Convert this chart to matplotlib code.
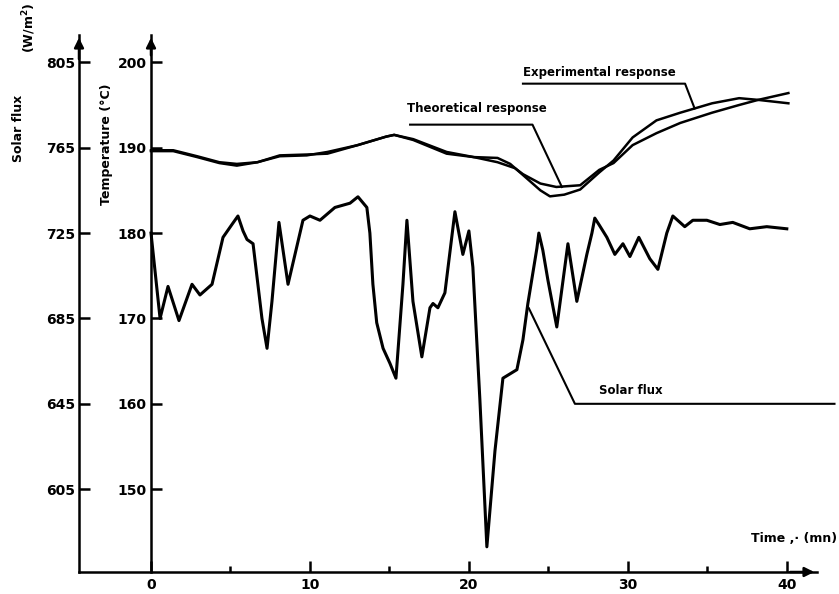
import numpy as np
import matplotlib
matplotlib.use('Agg')
import matplotlib.pyplot as plt

# solar flux curve (time in mn, flux in W/m2)
flux_time = [0, 0.57, 1.07, 1.76, 2.58, 3.08, 3.84, 4.53, 5.09, 5.47, 5.79, 6.04, 6.42,
             6.98, 7.30, 7.61, 8.05, 8.62, 9.56, 10.0, 10.63, 11.57, 12.52, 13.02, 13.58,
             13.77, 13.96, 14.2, 14.6, 15.03, 15.41, 15.85, 16.10, 16.48, 17.04, 17.55,
             17.74, 18.05, 18.49, 19.12, 19.62, 20.0, 20.25, 20.69, 21.13, 21.64, 22.14,
             22.58, 23.02, 23.40, 23.71, 24.28, 24.40, 24.65, 24.97, 25.53, 26.23, 26.79,
             27.42, 27.74, 27.92, 28.18, 28.68, 29.18, 29.69, 30.13, 30.69, 31.38, 31.89,
             32.45, 32.83, 33.58, 34.09, 34.97, 35.79, 36.60, 37.67, 38.74, 40.0]
flux_val = [725, 685, 700, 684, 701, 696, 701, 723, 729, 733, 726, 722, 720,
            685, 671, 693, 730, 701, 731, 733, 731, 737, 739, 742, 737,
            725, 701, 683, 671, 664, 657, 701, 731, 693, 667, 690,
            692, 690, 697, 735, 715, 726, 709, 647, 578, 623, 657,
            659, 661, 675, 692, 718, 725, 717, 703, 681, 720, 693,
            715, 725, 732, 729, 723, 715, 720, 714, 723, 713, 708,
            725, 733, 728, 731, 731, 729, 730, 727, 728, 727]

# temperature responses (time in mn, temperature in degC)
theo_time = [0, 1.4, 2.9, 4.3, 5.4, 6.7, 8.1, 9.8, 11.1, 13.0, 14.8, 15.3, 16.5,
             18.6, 20.3, 21.8, 22.9, 23.4, 24.5, 25.5, 27.0, 28.2, 29.1, 30.3,
             31.8, 33.3, 35.3, 37.0, 38.2, 40.1]
theo_temp = [189.6, 189.6, 188.9, 188.2, 187.9, 188.3, 189.0, 189.1, 189.5, 190.3,
             191.3, 191.5, 190.9, 189.3, 188.9, 188.3, 187.6, 186.9, 185.8, 185.4,
             185.6, 187.4, 188.2, 190.3, 191.7, 192.9, 194.1, 195.0, 195.6, 196.4]

exp_time = [0, 1.4, 2.9, 4.3, 5.4, 6.7, 8.1, 9.8, 11.1, 13.0, 14.8, 15.3, 16.5,
            18.6, 20.3, 21.8, 22.6, 23.4, 24.5, 25.1, 26.0, 27.0, 28.2, 29.1, 30.3,
            31.8, 33.3, 35.3, 37.0, 38.2, 40.1]
exp_temp = [189.7, 189.7, 189.0, 188.3, 188.1, 188.3, 189.1, 189.2, 189.3, 190.3,
            191.3, 191.5, 191.0, 189.5, 188.9, 188.8, 188.1, 186.8, 185.0, 184.3,
            184.5, 185.1, 187.1, 188.5, 191.2, 193.2, 194.1, 195.2, 195.8, 195.6, 195.2]

temp_ticks = [150, 160, 170, 180, 190, 200]
flux_ticks = [605, 645, 685, 725, 765, 805]
time_ticks = [0, 10, 20, 30, 40]
time_minor = [5, 15, 25, 35]

def t2f(T):
    return 4 * np.asarray(T) + 5

def f2t(f):
    return (np.asarray(f) - 5) / 4.0

fw = 'bold'
fig = plt.figure(figsize=(8.39, 5.94), dpi=100)
ax = fig.add_axes([79/839, 22/594, 738/839, 537/594])
ax.set_xlim(-4.53, 41.9)
ax.set_ylim(140.3, 203.2)

ax.plot(flux_time, f2t(flux_val), color='k', lw=2.2, solid_joinstyle='round')
ax.plot(theo_time, theo_temp, color='k', lw=1.8)
ax.plot(exp_time, exp_temp, color='k', lw=1.8)

# spines
for s in ['top', 'right']:
    ax.spines[s].set_visible(False)
ax.spines['left'].set_position(('data', 0))
ax.spines['left'].set_linewidth(1.8)
ax.spines['bottom'].set_linewidth(1.8)

ax.set_yticks(temp_ticks)
ax.set_yticklabels([str(v) for v in temp_ticks], fontweight=fw, fontsize=10)
ax.tick_params(axis='y', direction='in', length=8, width=1.8, pad=3)
ax.set_xticks(time_ticks)
ax.set_xticks(time_minor, minor=True)
ax.set_xticklabels([str(v) for v in time_ticks], fontweight=fw, fontsize=10)
ax.tick_params(axis='x', which='major', direction='in', length=8, width=1.8, pad=4)
ax.tick_params(axis='x', which='minor', direction='in', length=4.5, width=1.8)

sec = ax.secondary_yaxis(0.0, functions=(t2f, f2t))
sec.set_yticks(flux_ticks)
sec.set_yticklabels([str(v) for v in flux_ticks], fontweight=fw, fontsize=10)
sec.tick_params(direction='in', length=8, width=1.8, pad=3)
sec.spines['left'].set_linewidth(1.8)

# arrow heads
arr = dict(arrowstyle='-|>', color='k', lw=1.8, mutation_scale=14)
ax.annotate('', xy=(0, 1.0), xycoords='axes fraction', xytext=(0, 0.95), arrowprops=arr)
ax.annotate('', xy=(0, 203.2), xytext=(0, 200.5), arrowprops=arr)
ax.annotate('', xy=(1.0, 0), xycoords='axes fraction', xytext=(0.96, 0), arrowprops=arr)

# axis labels
fig.text(18/839, 1 - 128/594, 'Solar flux', rotation=90, ha='center', va='center',
         fontsize=9, fontweight=fw)
fig.text(29/839, 1 - 28/594, '(W/m$^\\mathbf{2}$)', rotation=90, ha='center', va='center',
         fontsize=9, fontweight=fw)
fig.text(106/839, 1 - 144/594, 'Temperature (°C)', rotation=90, ha='center', va='center',
         fontsize=9, fontweight=fw)
fig.text(837/839, 1 - 539/594, 'Time ,· (mn)', ha='right', va='center',
         fontsize=9, fontweight=fw)

# leader lines and labels
ax.plot([23.4, 33.6, 34.2], [197.5, 197.5, 194.6], color='k', lw=1.5)
ax.text(23.4, 198.8, 'Experimental response', ha='left', va='center', fontsize=8.5, fontweight=fw)
ax.plot([16.3, 24.0, 25.85], [192.7, 192.7, 185.4], color='k', lw=1.5)
ax.text(16.1, 194.6, 'Theoretical response', ha='left', va='center', fontsize=8.5, fontweight=fw)
ax.plot([23.77, 26.67, 43.0], [171.2, 160.0, 160.0], color='k', lw=1.5, clip_on=False)
ax.text(28.2, 161.6, 'Solar flux', ha='left', va='center', fontsize=8.5, fontweight=fw)

fig.savefig('out.png', dpi=100)
